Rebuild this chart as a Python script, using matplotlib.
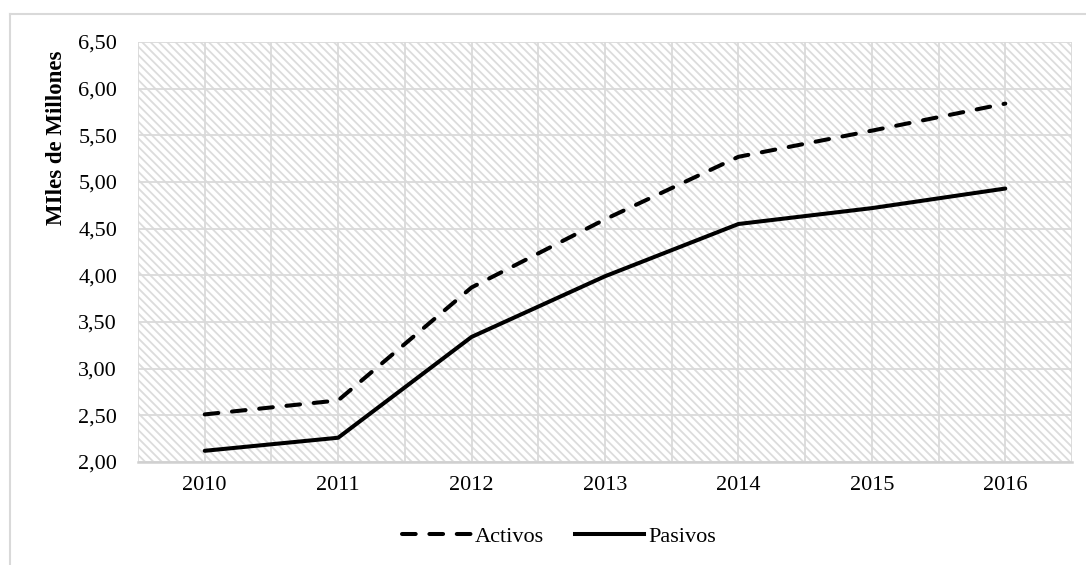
import matplotlib.pyplot as plt
from matplotlib.lines import Line2D
from matplotlib.patches import Rectangle

plt.rcParams['font.family'] = ['Liberation Serif', 'DejaVu Serif']
plt.rcParams['hatch.color'] = '#dcdcdc'
plt.rcParams['hatch.linewidth'] = 1.3

# datos
years = ['2010', '2011', '2012', '2013', '2014', '2015', '2016']
activos = [2.51, 2.66, 3.87, 4.60, 5.27, 5.55, 5.84]
pasivos = [2.12, 2.26, 3.34, 3.99, 4.55, 4.72, 4.93]
yticks = [2.0, 2.5, 3.0, 3.5, 4.0, 4.5, 5.0, 5.5, 6.0, 6.5]

fig = plt.figure(figsize=(10.86, 5.65), dpi=100)
ax = fig.add_axes([138 / 1086, 1 - 462 / 565, 934 / 1086, 420 / 565])

# fondo rayado
ax.patch.set_facecolor('white')
ax.add_patch(Rectangle((0, 0), 1, 1, transform=ax.transAxes, facecolor='white',
                       edgecolor='#dcdcdc', hatch='\\' * 4, linewidth=0, zorder=0))

x = list(range(len(years)))
ax.plot(x, activos, color='black', lw=2.9, ls=(0, (3.4, 3.4)),
        dash_capstyle='round', solid_capstyle='round', zorder=3)
ax.plot(x, pasivos, color='black', lw=2.9, solid_capstyle='round', zorder=3)

ax.set_xlim(-0.5, 6.5)
ax.set_ylim(2.0, 6.5)
ax.set_xticks(x)
ax.set_xticklabels(years)
ax.set_yticks(yticks)
ax.set_yticklabels([f'{v:.2f}'.replace('.', ',') for v in yticks])
ax.tick_params(axis='both', which='both', length=0, labelsize=16)
ax.tick_params(axis='y', pad=15)
ax.tick_params(axis='x', pad=10)

# rejilla
for v in yticks:
    ax.axhline(v, color='#dadada', lw=1.3, zorder=1)
for i in range(7):
    ax.axvline(i, color='#dadada', lw=1.3, zorder=1)
    ax.axvline(i - 0.5, color='#dadada', lw=1.3, zorder=1)
ax.axvline(6.5, color='#dadada', lw=1.3, zorder=1)

for s in ['top', 'right', 'left']:
    ax.spines[s].set_visible(False)
ax.spines['bottom'].set_color('#d0d0d0')
ax.spines['bottom'].set_linewidth(1.8)

# titulo del eje (arriba, como en el original)
fig.text(57 / 1086, 1 - 138 / 565, 'MIles de Millones', rotation=90, fontsize=16.5,
         fontweight='bold', ha='center', va='center')

handles = [Line2D([], [], color='black', lw=2.9, ls=(0, (3.4, 3.4)), dash_capstyle='round'),
           Line2D([], [], color='black', lw=2.9)]
fig.legend(handles, ['Activos', 'Pasivos'], loc='center', bbox_to_anchor=(559 / 1086, 1 - 537 / 565),
           ncol=2, frameon=False, fontsize=16, handlelength=3.1, handletextpad=0.2,
           columnspacing=1.4)

# borde exterior
fig.add_artist(Line2D([10 / 1086, 1], [1 - 14 / 565, 1 - 14 / 565], color='#d9d9d9', lw=1.5,
                      transform=fig.transFigure))
fig.add_artist(Line2D([10 / 1086, 10 / 1086], [0, 1 - 14 / 565], color='#d9d9d9', lw=1.5,
                      transform=fig.transFigure))

fig.savefig('out.png', dpi=100)
